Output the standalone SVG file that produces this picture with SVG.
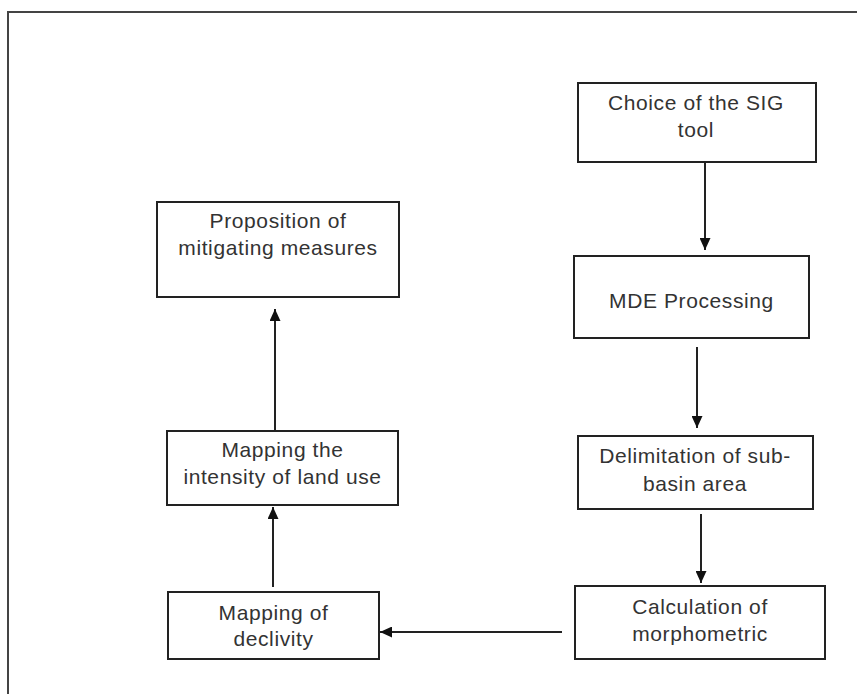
<svg xmlns="http://www.w3.org/2000/svg" width="857" height="694" viewBox="0 0 857 694">
<style>
.box{fill:#fff;stroke:#222;stroke-width:2}
.t{font-family:"Liberation Sans",Arial,sans-serif;font-size:21px;letter-spacing:0.6px;fill:#333;text-anchor:middle}
.c{stroke:#222;stroke-width:2;fill:none;marker-end:url(#ah)}
</style>
<defs>
<marker id="ah" markerUnits="userSpaceOnUse" markerWidth="13" markerHeight="11" refX="12" refY="5.5" orient="auto">
<path d="M0,0 L12,5.5 L0,11 z" fill="#111"/>
</marker>
</defs>
<rect x="0" y="0" width="857" height="694" fill="#fff"/>
<rect x="8" y="12" width="870" height="700" fill="none" stroke="#444" stroke-width="2"/>
<g id="n-choice"><rect class="box" x="578" y="83" width="238" height="79"/><text class="t" x="696" y="110">Choice of the SIG</text><text class="t" x="696" y="137">tool</text></g>
<g id="n-mde"><rect class="box" x="574" y="256" width="235" height="82"/><text class="t" x="691.5" y="308">MDE Processing</text></g>
<g id="n-delim"><rect class="box" x="578" y="436" width="235" height="73"/><text class="t" x="695" y="463">Delimitation of sub-</text><text class="t" x="695" y="491">basin area</text></g>
<g id="n-calc"><rect class="box" x="575" y="586" width="250" height="73"/><text class="t" x="700" y="614">Calculation of</text><text class="t" x="700" y="641">morphometric</text></g>
<g id="n-decl"><rect class="box" x="168" y="592" width="211" height="67"/><text class="t" x="273.5" y="620">Mapping of</text><text class="t" x="273.5" y="646">declivity</text></g>
<g id="n-land"><rect class="box" x="167" y="431" width="231" height="74"/><text class="t" x="282.5" y="457">Mapping the</text><text class="t" x="282.5" y="484">intensity of land use</text></g>
<g id="n-prop"><rect class="box" x="157" y="202" width="242" height="95"/><text class="t" x="278" y="228">Proposition of</text><text class="t" x="278" y="255">mitigating measures</text></g>
<g id="connectors">
<line class="c" x1="705" y1="162" x2="705" y2="250"/>
<line class="c" x1="697" y1="347" x2="697" y2="428"/>
<line class="c" x1="701" y1="514" x2="701" y2="583"/>
<line class="c" x1="562" y1="632" x2="380" y2="632"/>
<line class="c" x1="273" y1="587" x2="273" y2="507"/>
<line class="c" x1="275" y1="431" x2="275" y2="309"/>
</g>
</svg>
